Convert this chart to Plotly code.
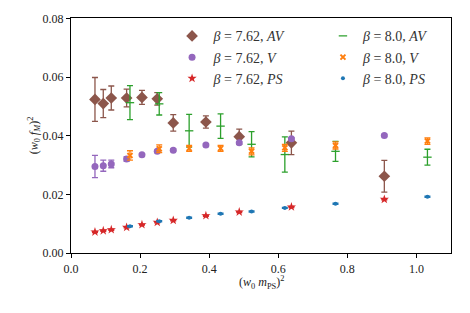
import plotly.graph_objects as go

# beta = 7.62
x762 = [0.0694, 0.0934, 0.1166, 0.161, 0.2054, 0.2497, 0.296, 0.3905, 0.487, 0.638, 0.907]
av762 = [0.0524, 0.0510, 0.0529, 0.0529, 0.0531, 0.0526, 0.0444, 0.0447, 0.0397, 0.0376, 0.0262]
av762_err = [0.0075, 0.0048, 0.0041, 0.0030, 0.0024, 0.0021, 0.0028, 0.0021, 0.0026, 0.0040, 0.0054]
v762 = [0.0295, 0.0298, 0.0304, 0.0321, 0.0335, 0.0347, 0.0351, 0.0369, 0.0376, 0.0390, 0.0401]
v762_err = [0.0038, 0.0019, 0.0013, 0.0008, 0.0004, 0.0004, 0.0004, 0.0004, 0.0004, 0.0004, 0.0004]
ps762 = [0.00718, 0.00762, 0.00797, 0.00875, 0.00968, 0.01046, 0.01115, 0.01275, 0.0140, 0.01573, 0.01833]
ps762_err = [0.0002] * 11

# beta = 8.0
x80 = [0.1707, 0.2554, 0.342, 0.433, 0.5227, 0.619, 0.7657, 1.0318]
av80 = [0.0513, 0.0509, 0.0417, 0.0433, 0.0371, 0.0336, 0.0347, 0.0327]
av80_err = [0.0058, 0.0038, 0.0056, 0.0042, 0.0043, 0.0060, 0.0034, 0.0027]
v80 = [0.0333, 0.0356, 0.0357, 0.0357, 0.0347, 0.0359, 0.0367, 0.0382]
v80_err = [0.0016, 0.0013, 0.0010, 0.0010, 0.0012, 0.0012, 0.0012, 0.0011]
ps80 = [0.0091, 0.0108, 0.0120, 0.0134, 0.0142, 0.0154, 0.0168, 0.0192]
ps80_err = [0.0002] * 8

FONT = "Liberation Serif, DejaVu Serif, serif"

fig = go.Figure()

def add(x, y, e, name, color, symbol, size, legend, lw=0):
    fig.add_trace(go.Scatter(
        x=x, y=y, mode="markers", name=name, legend=legend,
        marker=dict(color=color, symbol=symbol, size=size,
                    line=dict(color=color, width=lw)),
        error_y=dict(type="data", array=e, color=color, thickness=1.3, width=3),
    ))

add(x762, av762, av762_err, "<i>β</i> = 7.62, <i>AV</i>", "#8c564b", "diamond", 9, "legend")
add(x762, v762, v762_err, "<i>β</i> = 7.62, <i>V</i>", "#9467bd", "circle", 7, "legend")
add(x762, ps762, ps762_err, "<i>β</i> = 7.62, <i>PS</i>", "#d62728", "star", 7, "legend")
add(x80, av80, av80_err, "<i>β</i> = 8.0, <i>AV</i>", "#2ca02c", "line-ew", 6, "legend2", lw=1.3)
add(x80, v80, v80_err, "<i>β</i> = 8.0, <i>V</i>", "#ff7f0e", "x-thin", 5, "legend2", lw=2)
add(x80, ps80, ps80_err, "<i>β</i> = 8.0, <i>PS</i>", "#1f77b4", "circle", 4, "legend2")

axis_common = dict(showline=True, linecolor="black", linewidth=1.2, mirror=True,
                   ticks="outside", ticklen=4, tickcolor="black", showgrid=False,
                   zeroline=False, automargin=False,
                   tickfont=dict(family=FONT, size=12, color="#222"))

fig.update_layout(
    width=470, height=313,
    margin=dict(l=71, r=19, t=18, b=60),
    plot_bgcolor="white", paper_bgcolor="white",
    font=dict(family=FONT, size=12, color="#222"),
    xaxis=dict(range=[0, 1.1], tickvals=[0, 0.2, 0.4, 0.6, 0.8, 1.0], tickformat=".1f",
               **axis_common),
    yaxis=dict(range=[0, 0.0802], tickvals=[0, 0.02, 0.04, 0.06, 0.08], tickformat=".2f",
               title=dict(text="(<i>w</i><sub>0</sub> <i>f<sub>M</sub></i>)<sup>2</sup>",
                          font=dict(family=FONT, size=12), standoff=0),
               **axis_common),
    annotations=[dict(text="(<i>w</i><sub>0</sub> <i>m</i><sub>PS</sub>)<sup>2</sup>",
                      xref="paper", yref="paper", x=0.5, y=-0.082,
                      xanchor="center", yanchor="top", showarrow=False,
                      font=dict(family=FONT, size=12, color="#222"))],
    legend=dict(x=0.262, y=0.99, xanchor="left", yanchor="top", bgcolor="rgba(0,0,0,0)",
                itemwidth=33,
                font=dict(family=FONT, size=14, color="#333"), tracegroupgap=0),
    legend2=dict(x=0.663, y=0.99, xanchor="left", yanchor="top", bgcolor="rgba(0,0,0,0)",
                 itemwidth=30,
                 font=dict(family=FONT, size=14, color="#333"), tracegroupgap=0),
)

fig.write_html("out.html", config={"displayModeBar": False},
               post_script="document.body.style.margin='0';")
